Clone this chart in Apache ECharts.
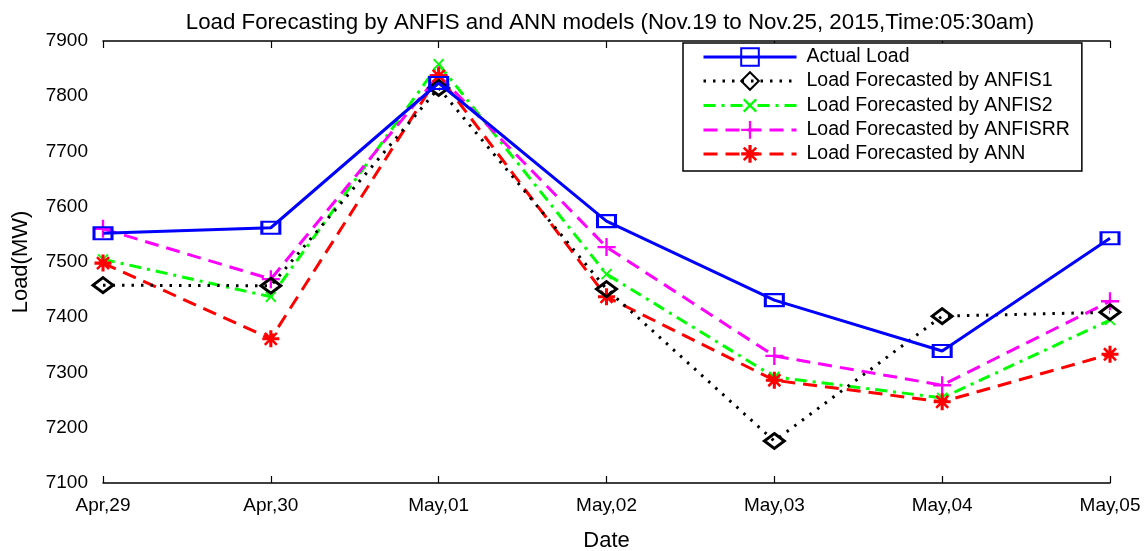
<!DOCTYPE html>
<html>
<head>
<meta charset="utf-8">
<script src="https://cdn.jsdelivr.net/npm/echarts@6/dist/echarts.min.js"></script>
<style>html,body{margin:0;padding:0;background:#fff}#c{width:1148px;height:551px}</style>
</head>
<body>
<div id="c"></div>
<script>
const categories = ['Apr,29','Apr,30','May,01','May,02','May,03','May,04','May,05'];
const actualLoad = [7552, 7562, 7824, 7574, 7431, 7339, 7543];
const anfis1 = [7458, 7457, 7815, 7451, 7176, 7402, 7409];
const anfis2 = [7505, 7437, 7858, 7478, 7292, 7254, 7395];
const anfisRR = [7560, 7469, 7838, 7527, 7330, 7277, 7429];
const ann = [7498, 7361, 7837, 7437, 7286, 7247, 7333];
const yTicks = [7100, 7200, 7300, 7400, 7500, 7600, 7700, 7800, 7900];

const plusPath = 'path://M-1.3,-10H1.3V-1.3H10V1.3H1.3V10H-1.3V1.3H-10V-1.3H-1.3Z';
const starPath = 'path://M-10,-1.8H10V1.8H-10Z M-1.8,-10H1.8V10H-1.8Z M6.01,8.13L-8.13,-6.01L-6.01,-8.13L8.13,6.01Z M-6.01,8.13L-8.13,6.01L6.01,-8.13L8.13,-6.01Z';
const font = 'Liberation Sans, Arial, sans-serif';

const chart = echarts.init(document.getElementById('c'));
const axisCommon = {
  axisLine: {lineStyle: {color: '#000', width: 1.5}},
  axisTick: {inside: true, length: 7, lineStyle: {color: '#000', width: 1.2}},
  splitLine: {show: false}
};
chart.setOption({
  animation: false,
  backgroundColor: '#fff',
  title: {
    text: 'Load Forecasting by ANFIS and ANN models (Nov.19 to Nov.25, 2015,Time:05:30am)',
    left: 605, top: 7, textAlign: 'center',
    textStyle: {fontFamily: font, fontSize: 22.3, fontWeight: 'normal', color: '#000'}
  },
  grid: {left: 103, right: 38, top: 41, bottom: 68, containLabel: false, outerBoundsMode: 'none'},
  legend: {
    orient: 'vertical', left: 683, top: 43,
    padding: [2, 12, 5, 19], itemGap: 0, itemWidth: 93, itemHeight: 22,
    borderColor: '#000', borderWidth: 1.5, backgroundColor: '#fff', borderRadius: 0,
    lineStyle: {width: 3},
    textStyle: {fontFamily: font, fontSize: 19.5, lineHeight: 24, color: '#000', padding: [0, 0, 0, 5]},
    data: ['Actual Load','Load Forecasted by ANFIS1','Load Forecasted by ANFIS2','Load Forecasted by ANFISRR','Load Forecasted by ANN']
  },
  xAxis: [
    Object.assign({}, axisCommon, {
      type: 'category', data: categories, boundaryGap: false, position: 'bottom',
      name: 'Date', nameLocation: 'middle', nameGap: 47,
      nameTextStyle: {fontFamily: font, fontSize: 22, color: '#000'},
      axisLabel: {fontFamily: font, fontSize: 19, color: '#000', margin: 13, showMinLabel: true, showMaxLabel: true, interval: 0}
    }),
    Object.assign({}, axisCommon, {
      type: 'category', data: categories, boundaryGap: false, position: 'top',
      axisLabel: {show: false}
    })
  ],
  yAxis: [
    Object.assign({}, axisCommon, {
      type: 'value', min: yTicks[0], max: yTicks[yTicks.length-1], interval: 100, position: 'left',
      name: 'Load(MW)', nameLocation: 'middle', nameGap: 71, nameRotate: 90,
      nameTextStyle: {fontFamily: font, fontSize: 22, color: '#000'},
      axisLabel: {fontFamily: font, fontSize: 19, color: '#000', margin: 15, formatter: v => String(v)}
    }),
    Object.assign({}, axisCommon, {
      type: 'value', min: yTicks[0], max: yTicks[yTicks.length-1], interval: 100, position: 'right',
      axisLabel: {show: false}
    })
  ],
  series: [
    {name: 'Actual Load', type: 'line', data: actualLoad, z: 5,
     symbol: 'rect', symbolSize: [18, 12],
     lineStyle: {color: '#0000ff', width: 3, type: 'solid'},
     itemStyle: {color: 'rgba(0,0,0,0)', borderColor: '#0000ff', borderWidth: 2.5}},
    {name: 'Load Forecasted by ANFIS1', type: 'line', data: anfis1, z: 4,
     symbol: 'diamond', symbolSize: [20, 15],
     lineStyle: {color: '#000', width: 3, type: [2.5, 7], cap: 'butt'},
     itemStyle: {color: 'rgba(0,0,0,0)', borderColor: '#000', borderWidth: 3}},
    {name: 'Load Forecasted by ANFIS2', type: 'line', data: anfis2, z: 3,
     symbol: plusPath, symbolRotate: 45, symbolSize: 14,
     lineStyle: {color: '#00ff00', width: 3, type: [12, 6, 3, 6]},
     itemStyle: {color: '#00ff00'}},
    {name: 'Load Forecasted by ANFISRR', type: 'line', data: anfisRR, z: 3,
     symbol: plusPath, symbolSize: 18,
     lineStyle: {color: '#ff00ff', width: 3, type: [14, 8]},
     itemStyle: {color: '#ff00ff'}},
    {name: 'Load Forecasted by ANN', type: 'line', data: ann, z: 3,
     symbol: starPath, symbolSize: 17,
     lineStyle: {color: '#ff0000', width: 3, type: [14, 8]},
     itemStyle: {color: '#ff0000'}}
  ]
});
</script>
</body>
</html>
